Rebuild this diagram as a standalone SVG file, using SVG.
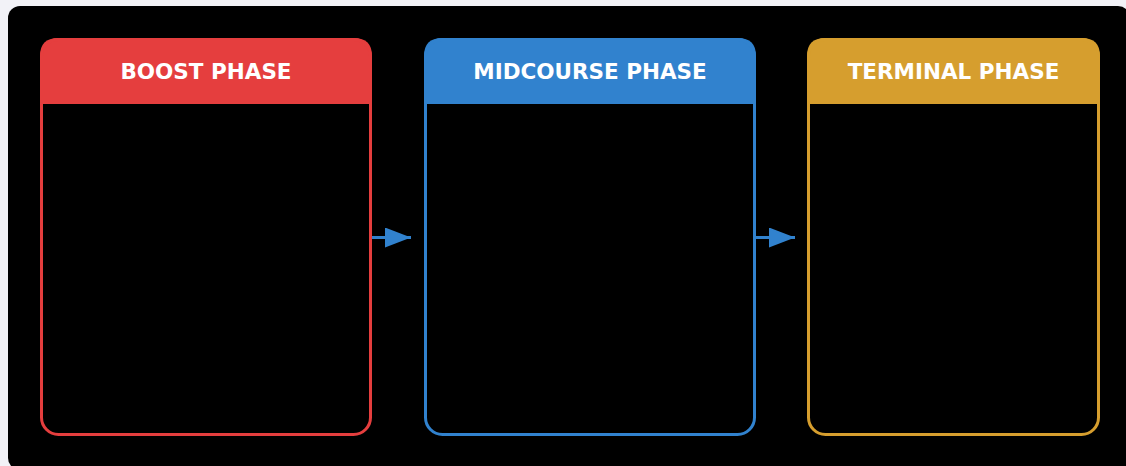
<svg xmlns="http://www.w3.org/2000/svg" width="1126" height="466" viewBox="0 0 1126 466">
  <defs>
    <style>
      .frame { fill: none; stroke-width: 3; }
      .title { font-family: "DejaVu Sans", sans-serif; font-weight: bold; font-size: 21.5px; fill: #ffffff; text-anchor: middle; }
      .link { stroke: #3182ce; stroke-width: 3; fill: none; }
    </style>
    <marker id="arrowhead" markerWidth="26" markerHeight="20" refX="26" refY="10" orient="auto" markerUnits="userSpaceOnUse">
      <path d="M0,0 L26,10 L0,20 Z" fill="#3182ce"/>
    </marker>
  </defs>

  <!-- page and dark canvas -->
  <rect x="0" y="0" width="1126" height="466" fill="#f2f2f7"/>
  <rect x="8" y="6" width="1122" height="464" rx="12" fill="#000000"/>

  <!-- phase cards -->
  <g id="boost-phase">
    <path d="M40,104 V56 Q40,38 58,38 H354 Q372,38 372,56 V104 Z" fill="#e53e3e"/>
    <rect class="frame" x="41.5" y="39.5" width="329" height="395" rx="17" stroke="#e53e3e"/>
    <text class="title" x="206" y="78.5">BOOST PHASE</text>
  </g>

  <g id="midcourse-phase">
    <path d="M424,104 V56 Q424,38 442,38 H738 Q756,38 756,56 V104 Z" fill="#3182ce"/>
    <rect class="frame" x="425.5" y="39.5" width="329" height="395" rx="17" stroke="#3182ce"/>
    <text class="title" x="590" y="78.5">MIDCOURSE PHASE</text>
  </g>

  <g id="terminal-phase">
    <path d="M807,104 V56 Q807,38 825,38 H1082 Q1100,38 1100,56 V104 Z" fill="#d69e2e"/>
    <rect class="frame" x="808.5" y="39.5" width="290" height="395" rx="17" stroke="#d69e2e"/>
    <text class="title" x="953.5" y="78.5">TERMINAL PHASE</text>
  </g>

  <!-- connectors -->
  <g id="connectors">
    <line class="link" x1="372" y1="237.5" x2="411" y2="237.5" marker-end="url(#arrowhead)"/>
    <line class="link" x1="756" y1="237.5" x2="795" y2="237.5" marker-end="url(#arrowhead)"/>
  </g>
</svg>
